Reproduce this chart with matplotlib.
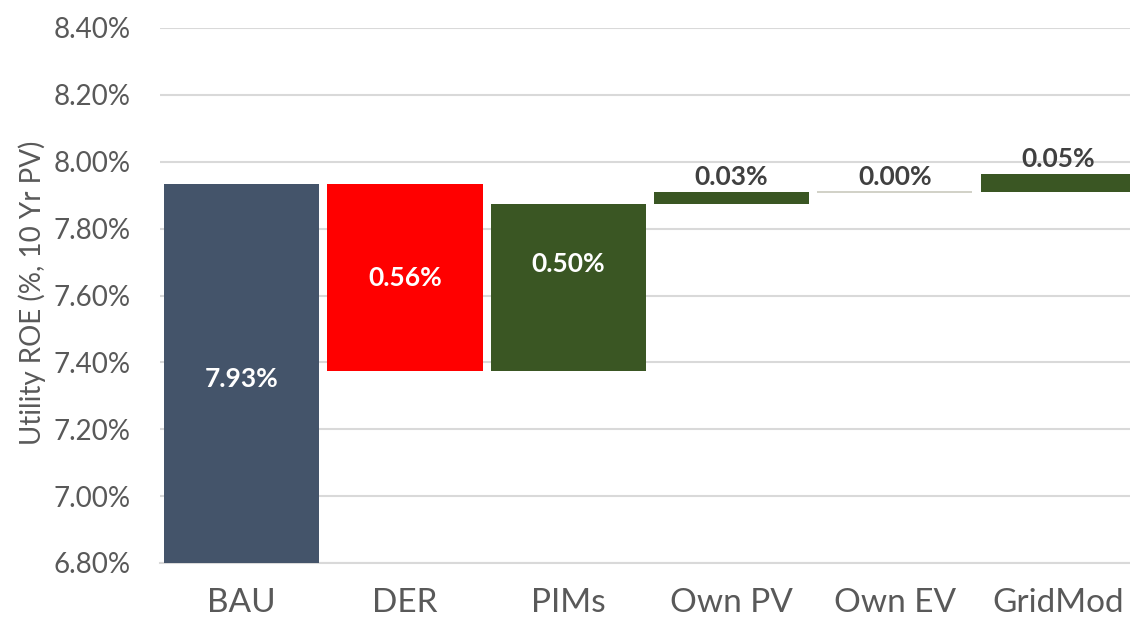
import matplotlib
matplotlib.use("Agg")
import matplotlib.pyplot as plt
from matplotlib.ticker import FuncFormatter, MultipleLocator

# Waterfall steps (percent ROE)
categories = ["BAU", "DER", "PIMs", "Own PV", "Own EV", "GridMod"]
steps = [7.932, -0.557, 0.500, 0.034, 0.000, 0.054]
bar_colors = ["#44546A", "#FF0000", "#3A5623", "#3A5623", "#C9C9BD", "#3A5623"]

Y_MIN, Y_MAX = 6.80, 8.40

plt.rcParams["font.family"] = ["Lato", "DejaVu Sans"]

fig = plt.figure(figsize=(11.3, 6.23), dpi=100)
ax = fig.add_axes([160 / 1130, 60 / 623, 970 / 1130, 535 / 623])

# running totals -> bottoms/tops of each floating bar
bottoms, heights = [], []
level = Y_MIN
for i, s in enumerate(steps):
    if i == 0:
        bottoms.append(Y_MIN)
        heights.append(s - Y_MIN)
        level = s
    else:
        bottoms.append(min(level, level + s))
        heights.append(abs(s))
        level += s

x = list(range(len(categories)))
for xi, b, h, c in zip(x, bottoms, heights, bar_colors):
    if h == 0:
        ax.hlines(b, xi - 0.475, xi + 0.475, color=c, lw=1.2, zorder=3)
    else:
        ax.bar(xi, h, bottom=b, width=0.95, color=c, zorder=3)

# value labels: big bars inside (white), thin bars above (dark)
label_shift = [-0.015, 0.0, 0.07, 0, 0, 0]
for xi, b, h, s, dy in zip(x, bottoms, heights, steps, label_shift):
    txt = f"{abs(s):.2f}%"
    if h > 0.2:
        ax.text(xi, b + h / 2 + dy, txt, ha="center", va="center",
                color="white", fontsize=19, fontweight="bold", zorder=4)
    else:
        ax.text(xi, b + h + 0.01, txt, ha="center", va="bottom",
                color="#404040", fontsize=19, fontweight="bold", zorder=4)

ax.set_ylim(Y_MIN, Y_MAX)
ax.set_xlim(-0.5, len(categories) - 0.5 - 0.06)
ax.yaxis.set_major_locator(MultipleLocator(0.2))
ax.yaxis.set_major_formatter(FuncFormatter(lambda v, _: f"{v:.2f}%"))
ax.grid(axis="y", color="#D9D9D9", lw=1.5, zorder=0)
ax.set_axisbelow(True)

ax.set_xticks(x, categories)
ax.tick_params(axis="x", length=0, pad=18, labelsize=24, labelcolor="#595959")
ax.tick_params(axis="y", length=0, pad=21, labelsize=20, labelcolor="#595959")
for side in ("top", "right", "left"):
    ax.spines[side].set_visible(False)
ax.spines["bottom"].set_color("#D9D9D9")
ax.spines["bottom"].set_linewidth(1.5)

ax.set_ylabel("Utility ROE (%, 10 Yr PV)", fontsize=20, color="#595959")
ax.yaxis.set_label_coords(-114 / 970, 0.505)

fig.savefig("out.png", dpi=100)
